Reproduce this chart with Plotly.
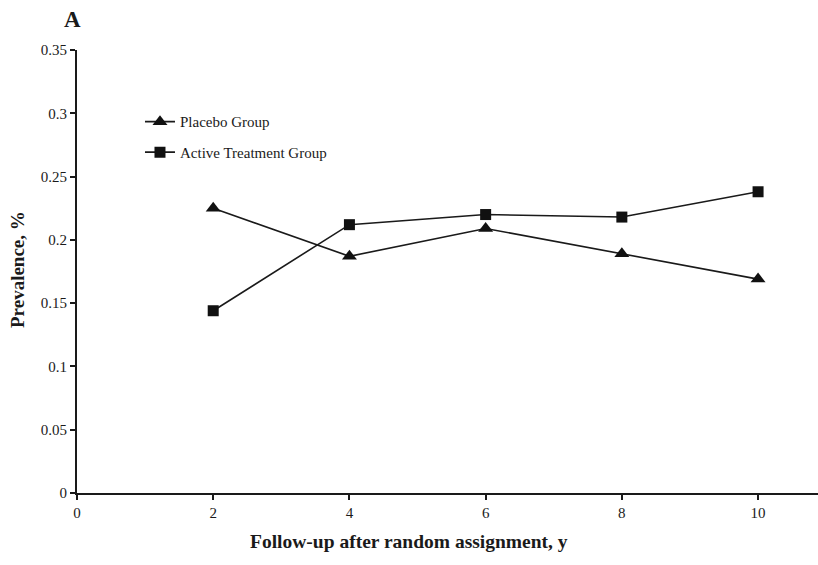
import plotly.graph_objects as go

years = [2, 4, 6, 8, 10]
placebo = [0.225, 0.187, 0.209, 0.189, 0.169]
active = [0.144, 0.212, 0.220, 0.218, 0.238]
x_ticks = [0, 2, 4, 6, 8, 10]
y_ticks = [0, 0.05, 0.1, 0.15, 0.2, 0.25, 0.3, 0.35]
y_labels = ["0", "0.05", "0.1", "0.15", "0.2", "0.25", "0.3", "0.35"]

FONT = "Liberation Serif"
W, H = 818, 565
ML, MR, MT, MB = 77, 0, 50, 72

fig = go.Figure()
fig.add_trace(go.Scatter(
    x=years, y=placebo, mode="lines+markers", name="Placebo Group", legendgroup="p",
    line=dict(color="#1a1a1a", width=1.6),
    marker=dict(symbol="triangle-up", size=13, color="#111111"),
))
fig.add_trace(go.Scatter(
    x=years, y=active, mode="lines+markers", name="Active Treatment Group", legendgroup="a",
    line=dict(color="#1a1a1a", width=1.6),
    marker=dict(symbol="square", size=11, color="#111111"),
))

fig.update_layout(
    width=W, height=H,
    margin=dict(l=ML, r=MR, t=MT, b=MB, autoexpand=False),
    paper_bgcolor="white", plot_bgcolor="white",
    font=dict(family=FONT, size=15, color="#1a1a1a"),
    showlegend=True,
    legend=dict(x=0.085, y=0.875, xanchor="left", yanchor="top",
                font=dict(family=FONT, size=15, color="#1a1a1a"),
                bgcolor="rgba(0,0,0,0)", itemwidth=30, tracegroupgap=8),
    xaxis=dict(range=[0, 10.88], tickmode="array", tickvals=x_ticks, automargin=False,
               showgrid=False, zeroline=False, showline=True, linecolor="#1a1a1a",
               linewidth=2, ticks="outside", ticklen=5, tickwidth=2, tickcolor="#1a1a1a",
               tickfont=dict(family=FONT, size=15)),
    yaxis=dict(range=[0, 0.35], tickmode="array", tickvals=y_ticks, ticktext=y_labels,
               automargin=False,
               showgrid=False, zeroline=False, showline=True, linecolor="#1a1a1a",
               linewidth=2, ticks="outside", ticklen=5, tickwidth=2, tickcolor="#1a1a1a",
               tickfont=dict(family=FONT, size=15)),
)

pw, ph = W - ML - MR, H - MT - MB


def ann(text, px, py, size, angle=0):
    fig.add_annotation(text=text, x=(px - ML) / pw, y=(H - MB - py) / ph,
                       xref="paper", yref="paper", xanchor="center", yanchor="middle",
                       showarrow=False, textangle=angle,
                       font=dict(family=FONT, size=size, color="#1a1a1a"))


ann("<b>A</b>", 72, 20, 23)
ann("<b>Follow-up after random assignment, y</b>", 409, 541, 19.5)
ann("<b>Prevalence, %</b>", 17, 270, 19, -90)

fig.write_html("out.html", config={"displayModeBar": False},
               post_script="document.body.style.margin='0';document.body.style.overflow='hidden';")
